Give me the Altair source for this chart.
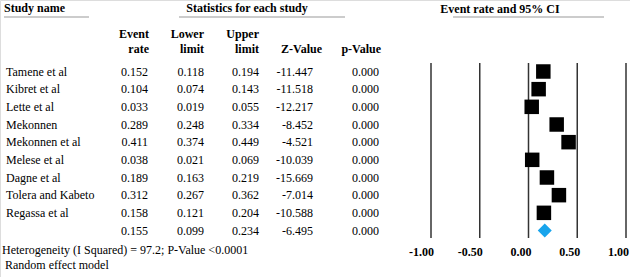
import altair as alt
import pandas as pd

studies = ["Tamene et al", "Kibret et al", "Lette et al", "Mekonnen", "Mekonnen et al",
           "Melese et al", "Dagne et al", "Tolera and Kabeto", "Regassa et al"]
event_rate = [0.152, 0.104, 0.033, 0.289, 0.411, 0.038, 0.189, 0.312, 0.158]
lower_limit = [0.118, 0.074, 0.019, 0.248, 0.374, 0.021, 0.163, 0.267, 0.121]
upper_limit = [0.194, 0.143, 0.055, 0.334, 0.449, 0.069, 0.219, 0.362, 0.204]
z_value = [-11.447, -11.518, -12.217, -8.452, -4.521, -10.039, -15.669, -7.014, -10.588]
p_value = [0.000] * 9

pooled = {"event": 0.155, "lower": 0.099, "upper": 0.234, "z": -6.495, "p": 0.000}

ticks = [-1.0, -0.5, 0.0, 0.5, 1.0]
tick_labels = ["-1.00", "-0.50", "0.00", "0.50", "1.00"]

footer_het = "Heterogeneity (I Squared) = 97.2; P-Value <0.0001"
footer_model = "Random effect model"

FONT = "Liberation Serif, Times New Roman, DejaVu Serif, serif"
FS = 12

rows = []
for i, s in enumerate(studies):
    rows.append({"row": i, "name": s, "event": event_rate[i], "lower": lower_limit[i],
                 "upper": upper_limit[i], "z": z_value[i], "p": p_value[i]})
rows.append({"row": len(studies), "name": "", **pooled})
df = pd.DataFrame(rows)
for c in ["event", "lower", "upper", "z", "p"]:
    df[c + "_s"] = df[c].map(lambda v: f"{v:.3f}")
df["kind"] = ["study"] * len(studies) + ["pooled"]

tick_df = pd.DataFrame({"tick": ticks, "label": tick_labels})

yscale = alt.Scale(domain=[0, 9], range=[71.5, 230.5], nice=False, zero=False)
xscale = alt.Scale(domain=[-1, 1], range=[431, 626], nice=False, zero=False)
Y = alt.Y("row:Q", scale=yscale, axis=None)

base = alt.Chart(df)


def col_text(field, x, align):
    return base.mark_text(font=FONT, fontSize=FS, align=align, baseline="middle",
                          color="black").encode(x=alt.value(x), y=Y, text=f"{field}:N")


def label(text, x, y, align="left", bold=False):
    return alt.Chart(pd.DataFrame({"t": [text]})).mark_text(
        font=FONT, fontSize=FS, align=align, baseline="middle", color="black",
        fontWeight="bold" if bold else "normal"
    ).encode(x=alt.value(x), y=alt.value(y), text="t:N")


def hline(x1, x2, y):
    return alt.Chart(pd.DataFrame({"a": [0]})).mark_rule(color="#999999", strokeWidth=1).encode(
        x=alt.value(x1), x2=alt.value(x2), y=alt.value(y))


layers = [
    # headers
    label("Study name", 4, 7.5, bold=True),
    hline(4, 89, 17),
    label("Statistics for each study", 247, 7.5, align="center", bold=True),
    hline(179, 345, 17),
    label("Event rate and 95% CI", 500, 9, align="center", bold=True),
    hline(453, 604, 17),
    label("Event", 149, 34, align="right", bold=True),
    label("rate", 149, 49, align="right", bold=True),
    label("Lower", 204, 34, align="right", bold=True),
    label("limit", 204, 49, align="right", bold=True),
    label("Upper", 259, 34, align="right", bold=True),
    label("limit", 259, 49, align="right", bold=True),
    label("Z-Value", 322, 49, align="right", bold=True),
    label("p-Value", 381, 49, align="right", bold=True),
    # table body
    col_text("name", 6, "left"),
    col_text("event_s", 148, "right"),
    col_text("lower_s", 204, "right"),
    col_text("upper_s", 259, "right"),
    col_text("z_s", 313, "right"),
    col_text("p_s", 379, "right"),
    # footers
    label(footer_het, 2, 250),
    label(footer_model, 5, 265),
    # forest reference lines
    alt.Chart(tick_df).mark_rule(color="#333333", strokeWidth=1.5).encode(
        x=alt.X("tick:Q", scale=xscale, axis=None), y=alt.value(63), y2=alt.value(238)),
    alt.Chart(tick_df).mark_text(font=FONT, fontSize=FS, fontWeight="bold", align="right",
                                 baseline="middle", dx=3, color="black").encode(
        x=alt.X("tick:Q", scale=xscale, axis=None), y=alt.value(252), text="label:N"),
    # CI whiskers
    base.transform_filter(alt.datum.kind == "study").mark_rule(color="black", strokeWidth=1).encode(
        x=alt.X("lower:Q", scale=xscale, axis=None), x2="upper:Q", y=Y),
    # study squares
    base.transform_filter(alt.datum.kind == "study").mark_square(
        size=210, color="black", opacity=1).encode(
        x=alt.X("event:Q", scale=xscale, axis=None), y=Y),
    # pooled diamond spanning the CI
    base.transform_filter(alt.datum.kind == "pooled").transform_calculate(
        mid="(datum.lower + datum.upper) / 2").mark_point(
        shape="diamond", filled=True, size=196, color="#18a4ec", opacity=1).encode(
        x=alt.X("mid:Q", scale=xscale, axis=None), y=Y),
]

chart = alt.layer(*layers).properties(
    width=630, height=277, autosize=alt.AutoSizeParams(type="none"), padding=0
).configure_view(stroke=None).configure(background="white", font=FONT)

chart.save("out.html", embed_options={"renderer": "svg", "actions": False})
